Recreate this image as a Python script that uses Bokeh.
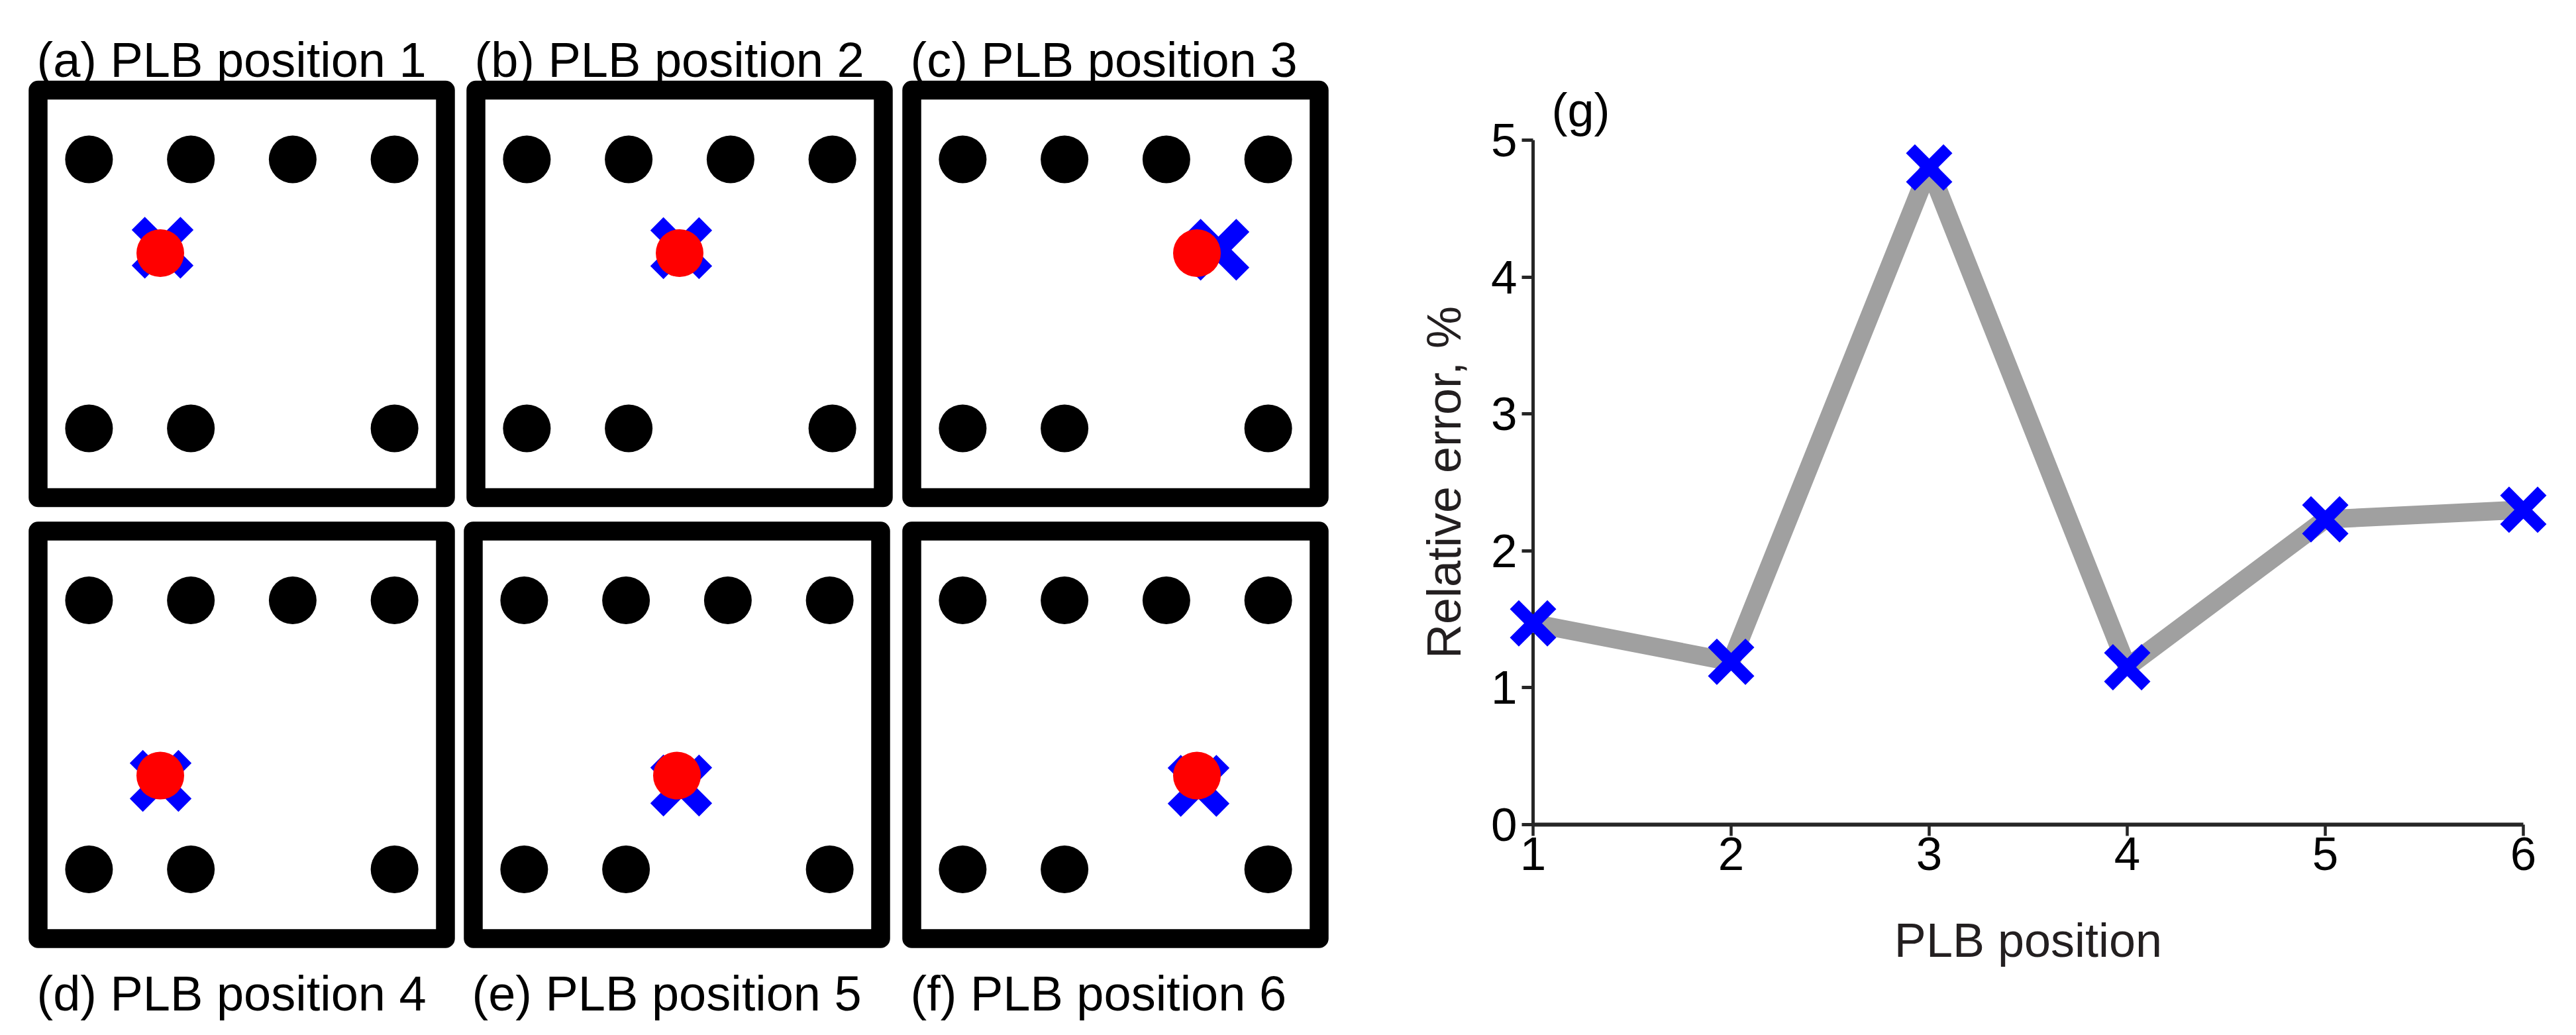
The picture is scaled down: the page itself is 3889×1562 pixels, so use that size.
from bokeh.plotting import figure
from bokeh.layouts import row
from bokeh.models import Range1d, FixedTicker, ColumnDataSource
from bokeh.embed import file_html
from bokeh.resources import INLINE
from bokeh.core.properties import value

# ---------------- data ----------------
panel_titles = ["(a) PLB position 1", "(b) PLB position 2", "(c) PLB position 3",
                "(d) PLB position 4", "(e) PLB position 5", "(f) PLB position 6"]
section_size = 600.0                      # section side (mm)
sensor_x = [75, 225, 375, 525, 75, 225, 525]   # sensor positions (mm)
sensor_y = [498, 498, 498, 498, 102, 102, 102]
plb_true_x = [180, 300, 420, 180, 300, 420]    # true PLB source (mm)
plb_true_y = [360, 360, 360, 240, 240, 240]
plb_est_x = [183.4, 302.4, 451.7, 180.5, 306.3, 422.4]  # located source (mm)
plb_est_y = [368.0, 367.3, 365.0, 232.2, 225.4, 224.9]

plb_position = [1, 2, 3, 4, 5, 6]
relative_error = [1.47, 1.19, 4.80, 1.15, 2.23, 2.30]
x_ticks = [1, 2, 3, 4, 5, 6]
y_ticks = [0, 1, 2, 3, 4, 5]

FONT = value("Liberation Sans")

H = 1544
B_TOP, B_BOTTOM = 211, 300          # shared top/bottom borders of both figures

# ---------------- left: six section panels ----------------
WL = 2092
pl = figure(width=WL, height=H, x_range=Range1d(0, WL), y_range=Range1d(H - B_BOTTOM, B_TOP),
            output_backend="svg", toolbar_location=None,
            min_border_left=0, min_border_right=0, min_border_top=B_TOP, min_border_bottom=B_BOTTOM,
            x_axis_location=None, y_axis_location=None, outline_line_color=None)
pl.grid.visible = False

scale = 1.025                      # px per mm
side = section_size * scale
col_left = [[57, 718, 1376], [57, 714, 1376]]
row_top = [135.5, 801.0]

box = dict(l=[], r=[], t=[], b=[])
dots = dict(x=[], y=[])
red = dict(x=[], y=[])
blue = dict(x=[], y=[])
tt = dict(x=[], y=[], text=[])
for k in range(6):
    rr, cc = divmod(k, 3)
    L = col_left[rr][cc]
    T = row_top[rr]
    box["l"].append(L); box["r"].append(L + side)
    box["t"].append(T); box["b"].append(T + side)
    for sx, sy in zip(sensor_x, sensor_y):
        dots["x"].append(L + sx * scale)
        dots["y"].append(T + (section_size - sy) * scale)
    red["x"].append(L + plb_true_x[k] * scale)
    red["y"].append(T + (section_size - plb_true_y[k]) * scale)
    blue["x"].append(L + plb_est_x[k] * scale)
    blue["y"].append(T + (section_size - plb_est_y[k]) * scale)
    tt["x"].append(L - 2)
    tt["y"].append(T - 46 if rr == 0 else T + side + 82.5)
    tt["text"].append(panel_titles[k])

pl.quad(left="l", right="r", top="t", bottom="b", source=ColumnDataSource(box),
        fill_color=None, line_color="black", line_width=28.5, line_join="round", level="overlay")
pl.scatter(x="x", y="y", source=ColumnDataSource(dots), marker="circle", size=72,
           fill_color="black", line_color=None, level="overlay")
pl.scatter(x="x", y="y", source=ColumnDataSource(blue), marker="x", size=104,
           line_color="#0000FF", line_width=28, level="overlay")
pl.scatter(x="x", y="y", source=ColumnDataSource(red), marker="circle", size=72,
           fill_color="#FF0000", line_color=None, level="overlay")
pl.text(x="x", y="y", text="text", source=ColumnDataSource(tt), text_font=FONT,
        text_font_size=value("74px"), text_color="black",
        text_align="left", text_baseline="alphabetic", level="overlay")

# ---------------- right: relative error chart ----------------
WR = 1780
pr = figure(width=WR, height=H, x_range=Range1d(1, 6), y_range=Range1d(0, 5),
            output_backend="svg", toolbar_location=None,
            min_border_left=222, min_border_right=63, min_border_top=B_TOP, min_border_bottom=B_BOTTOM,
            outline_line_color=None)
pr.grid.visible = False

src = ColumnDataSource(dict(x=plb_position, y=relative_error))
pr.line(x="x", y="y", source=src, line_color="#A0A0A0", line_width=28, level="overlay")
pr.scatter(x="x", y="y", source=src, marker="x", size=80, line_color="#0000FF",
           line_width=19, level="overlay")

for ax, ticks in ((pr.xaxis[0], x_ticks), (pr.yaxis[0], y_ticks)):
    ax.ticker = FixedTicker(ticks=ticks)
    ax.minor_tick_line_color = None
    ax.major_tick_in = 0
    ax.major_tick_out = 17
    ax.axis_line_color = "#262626"
    ax.major_tick_line_color = "#262626"
    ax.major_label_text_font = "Liberation Sans"
    ax.major_label_text_font_size = "71px"
    ax.major_label_text_color = "black"
    ax.axis_label_text_font = "Liberation Sans"
    ax.axis_label_text_font_size = "72px"
    ax.axis_label_text_font_style = "normal"
    ax.axis_label_text_color = "#231F20"

pr.xaxis.axis_line_width = 6
pr.xaxis.major_tick_line_width = 4.5
pr.yaxis.axis_line_width = 5
pr.yaxis.major_tick_line_width = 5
pr.xaxis.major_label_standoff = 2
pr.yaxis.major_label_standoff = 7
pr.xaxis.axis_label = "PLB position"
pr.yaxis.axis_label = "Relative error, %"
pr.xaxis.axis_label_standoff = 63
pr.yaxis.axis_label_standoff = 28

panel_g = ColumnDataSource(dict(x=[x_ticks[0]], y=[y_ticks[-1]], text=["(g)"]))
pr.text(x="x", y="y", text="text", source=panel_g, x_offset=28, y_offset=-46,
        text_font=FONT, text_font_size=value("72px"), text_color="black",
        text_align="left", text_baseline="alphabetic", level="overlay")

layout = row(pl, pr)
open("out.html", "w").write(file_html(layout, INLINE))
